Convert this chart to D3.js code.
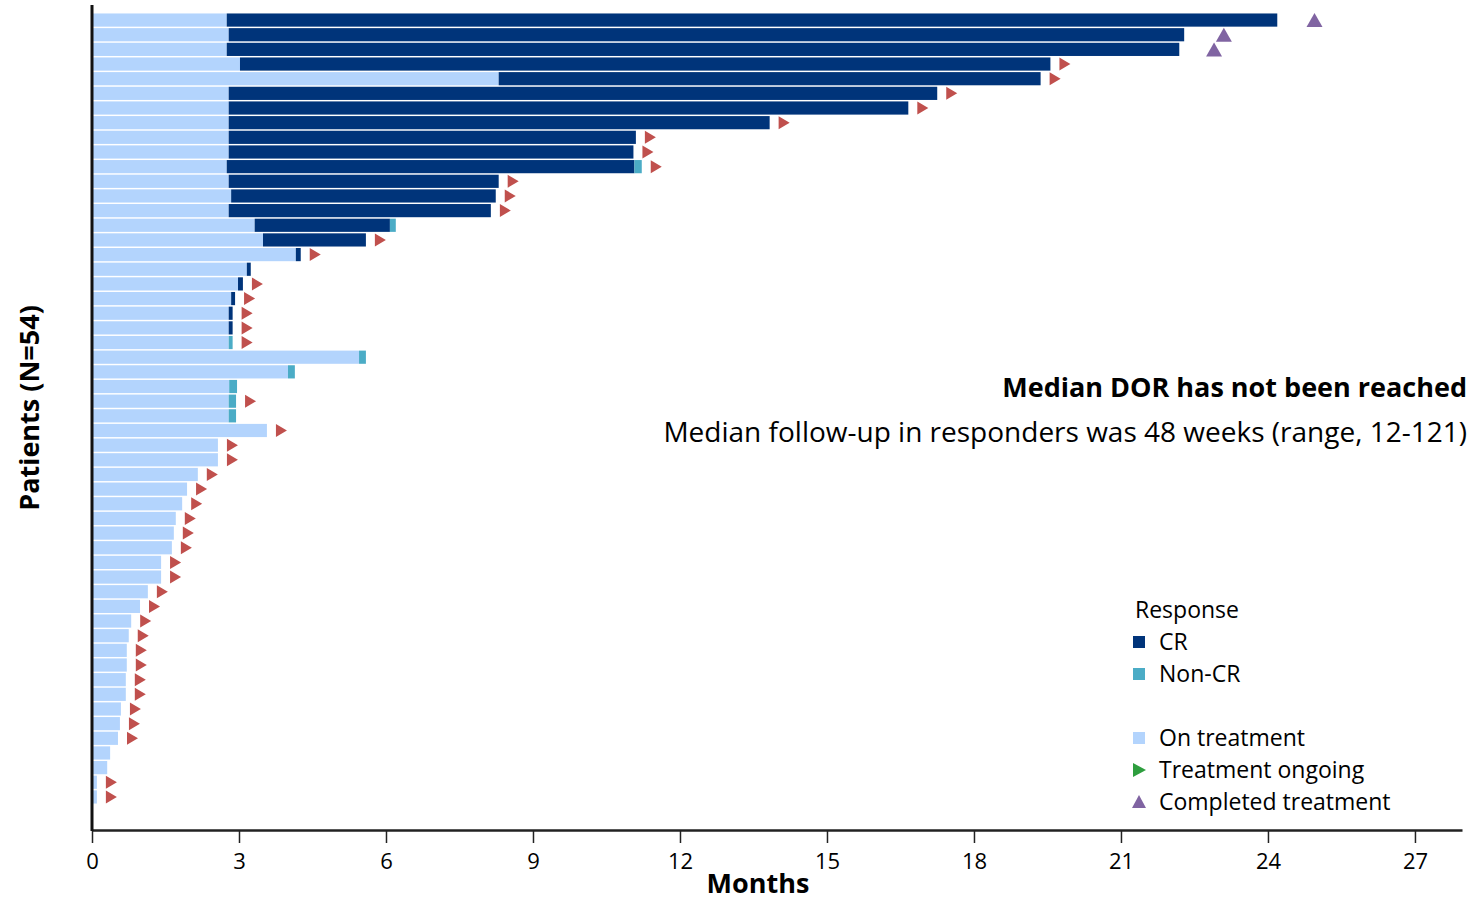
<html>
<head>
<meta charset="utf-8">
<style>
  body { margin: 0; background: #fff; }
  text { font-family: "Open Sans", Lato, sans-serif; }
</style>
</head>
<body>
<div id="vis"></div>
<script src="https://d3js.org/d3.v7.min.js"></script>
<script>
// months on treatment before response (light bar)
const onTx = [2.75, 2.79, 2.75, 3.02, 8.30, 2.79, 2.79, 2.79, 2.79, 2.79,
  2.75, 2.79, 2.84, 2.79, 3.32, 3.49, 4.16, 3.16, 2.98, 2.84,
  2.79, 2.79, 2.79, 5.45, 4.00, 2.80, 2.79, 2.79, 3.57, 2.57,
  2.57, 2.16, 1.94, 1.84, 1.71, 1.67, 1.63, 1.41, 1.41, 1.14,
  0.98, 0.80, 0.75, 0.71, 0.71, 0.69, 0.69, 0.59, 0.57, 0.53,
  0.37, 0.31, 0.10, 0.10]
// CR duration in months
const cr = [21.44, 19.50, 19.44, 16.54, 11.06, 14.46, 13.87, 11.04, 8.31, 8.26,
  8.32, 5.51, 5.40, 5.35, 2.76, 2.10, 0.10, 0.08, 0.10, 0.08,
  0.08, 0.08, 0, 0, 0, 0, 0, 0, 0, 0,
  0, 0, 0, 0, 0, 0, 0, 0, 0, 0,
  0, 0, 0, 0, 0, 0, 0, 0, 0, 0,
  0, 0, 0, 0]
// non-CR duration in months
const nonCr = [0, 0, 0, 0, 0, 0, 0, 0, 0, 0,
  0.15, 0, 0, 0, 0.12, 0, 0, 0, 0, 0,
  0, 0, 0.08, 0.14, 0.14, 0.16, 0.15, 0.15, 0, 0,
  0, 0, 0, 0, 0, 0, 0, 0, 0, 0,
  0, 0, 0, 0, 0, 0, 0, 0, 0, 0,
  0, 0, 0, 0]
// 1 = response ongoing (red arrow)
const ongoing = [0, 0, 0, 1, 1, 1, 1, 1, 1, 1,
  1, 1, 1, 1, 0, 1, 1, 0, 1, 1,
  1, 1, 1, 0, 0, 0, 1, 0, 1, 1,
  1, 1, 1, 1, 1, 1, 1, 1, 1, 1,
  1, 1, 1, 1, 1, 1, 1, 1, 1, 1,
  0, 0, 1, 1]
// completed treatment (purple triangle), month
const completed = [24.95, 23.10, 22.90]
const xTicks = [0, 3, 6, 9, 12, 15, 18, 21, 24, 27]

const W = 1470, H = 901
const svg = d3.select('#vis').append('svg').attr('width', W).attr('height', H)

const x = d3.scaleLinear().domain([0, 27.96]).range([92, 1462])
const y = d3.scaleBand().domain(d3.range(onTx.length)).range([12, 805]).padding(0.1)

const colLight = '#b3d4fd', colCR = '#00347a', colNon = '#4bacc6',
      colRed = '#c0504d', colPurple = '#8064a2', colGreen = '#2e9e3e'

const rows = svg.selectAll('g.row')
  .data(d3.range(onTx.length))
  .join('g')
  .attr('class', 'row')
  .attr('transform', i => 'translate(0,' + y(i) + ')')

rows.append('rect')
  .attr('x', x(0)).attr('width', i => x(onTx[i]) - x(0))
  .attr('height', y.bandwidth()).attr('fill', colLight)
rows.filter(i => cr[i] > 0).append('rect')
  .attr('x', i => x(onTx[i])).attr('width', i => x(onTx[i] + cr[i]) - x(onTx[i]))
  .attr('height', y.bandwidth()).attr('fill', colCR)
rows.filter(i => nonCr[i] > 0).append('rect')
  .attr('x', i => x(onTx[i] + cr[i]))
  .attr('width', i => x(onTx[i] + cr[i] + nonCr[i]) - x(onTx[i] + cr[i]))
  .attr('height', y.bandwidth()).attr('fill', colNon)

// ongoing arrows
const bh = y.bandwidth()
rows.filter(i => ongoing[i]).append('path')
  .attr('d', i => {
    const e = x(onTx[i] + cr[i] + nonCr[i]) + 9
    return 'M' + e + ',' + (bh / 2 - 6.5) + 'L' + (e + 11) + ',' + (bh / 2) + 'L' + e + ',' + (bh / 2 + 6.5) + 'Z'
  })
  .attr('fill', colRed)

// completed triangles
svg.selectAll('path.done')
  .data(completed)
  .join('path')
  .attr('class', 'done')
  .attr('d', (d, i) => {
    const cx = x(d), cy = y(i) + bh / 2
    return 'M' + (cx - 8) + ',' + (cy + 7) + 'L' + cx + ',' + (cy - 7) + 'L' + (cx + 8) + ',' + (cy + 7) + 'Z'
  })
  .attr('fill', colPurple)

// axes
const xAxis = svg.append('g')
  .attr('transform', 'translate(0,830)')
  .call(d3.axisBottom(x).tickValues(xTicks).tickSize(13).tickSizeOuter(0))
xAxis.select('.domain').attr('stroke', '#222').attr('stroke-width', 2.5)
xAxis.selectAll('.tick line').attr('stroke', '#222').attr('stroke-width', 1.5)
xAxis.selectAll('.tick text').attr('font-size', 22).attr('fill', '#000')
  .attr('font-family', '"Open Sans", sans-serif').attr('dy', '1.05em')

svg.append('line')
  .attr('x1', x(0)).attr('x2', x(0)).attr('y1', 5).attr('y2', 831)
  .attr('stroke', '#111').attr('stroke-width', 3)

svg.append('text')
  .attr('x', 758).attr('y', 893).attr('text-anchor', 'middle')
  .attr('font-size', 27).attr('font-weight', 'bold').text('Months')
svg.append('text')
  .attr('transform', 'translate(39,408) rotate(-90)').attr('text-anchor', 'middle')
  .attr('font-size', 27).attr('font-weight', 'bold').text('Patients (N=54)')

svg.append('text')
  .attr('x', 1467).attr('y', 397).attr('text-anchor', 'end')
  .attr('font-size', 27).attr('font-weight', 'bold').text('Median DOR has not been reached')
svg.append('text')
  .attr('x', 1467).attr('y', 442).attr('text-anchor', 'end')
  .attr('font-size', 28).text('Median follow-up in responders was 48 weeks (range, 12-121)')

// legend
const lg = svg.append('g').attr('transform', 'translate(1133,0)')
lg.append('text').attr('x', 2).attr('y', 618).attr('font-size', 23).text('Response')
const items = [
  { y: 642, label: 'CR', shape: 'sq', color: colCR },
  { y: 674, label: 'Non-CR', shape: 'sq', color: colNon },
  { y: 738, label: 'On treatment', shape: 'sq', color: colLight },
  { y: 770, label: 'Treatment ongoing', shape: 'right', color: colGreen },
  { y: 802, label: 'Completed treatment', shape: 'up', color: colPurple }
]
items.forEach(it => {
  if (it.shape === 'sq') {
    lg.append('rect').attr('x', 0).attr('y', it.y - 6).attr('width', 12).attr('height', 12).attr('fill', it.color)
  } else if (it.shape === 'right') {
    lg.append('path').attr('d', 'M0,' + (it.y - 7) + 'L13,' + it.y + 'L0,' + (it.y + 7) + 'Z').attr('fill', it.color)
  } else {
    lg.append('path').attr('d', 'M-1,' + (it.y + 6) + 'L6,' + (it.y - 7) + 'L13,' + (it.y + 6) + 'Z').attr('fill', it.color)
  }
  lg.append('text').attr('x', 26).attr('y', it.y + 8).attr('font-size', 23).text(it.label)
})
</script>
</body>
</html>
